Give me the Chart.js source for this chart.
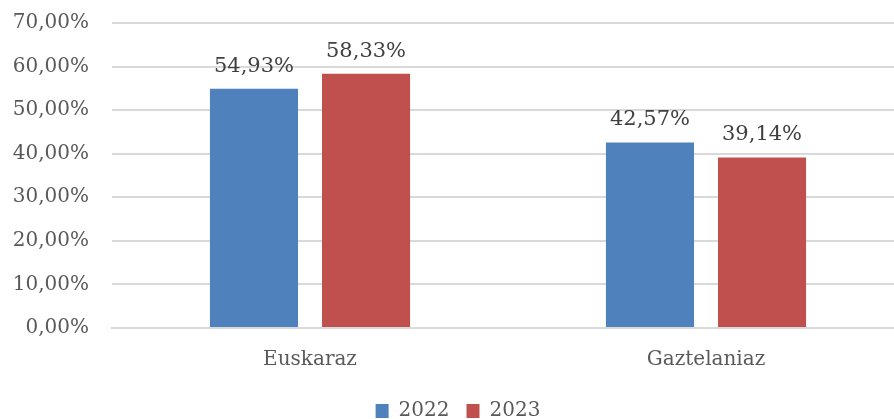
<!DOCTYPE html>
<html lang="eu">
<head>
    <meta charset="UTF-8">
    <title>Euskaraz / Gaztelaniaz</title>
    <style>
        html, body {
            margin: 0;
            padding: 0;
            background: #fff;
            overflow: hidden;
        }

        #chart-container {
            width: 904px;
            height: 419px;
        }
    </style>
</head>
<body>
    <div id="chart-container">
        <canvas id="chart"></canvas>
    </div>

    <script src="https://cdn.jsdelivr.net/npm/chart.js"></script>
    <script>
        const categories = ['Euskaraz', 'Gaztelaniaz'];
        const seriesNames = ['2022', '2023'];
        const values2022 = [54.93, 42.57];
        const values2023 = [58.33, 39.14];
        const yTicks = [0, 10, 20, 30, 40, 50, 60, 70];

        const textColor = '#595959';
        const fontFamily = '"DejaVu Serif", serif';

        function fmt(v) {
            return v.toFixed(2).replace('.', ',') + '%';
        }

        // draws the value above each bar
        const valueLabels = {
            id: 'valueLabels',
            afterDatasetsDraw(chart) {
                const ctx = chart.ctx;
                ctx.save();
                ctx.font = '21px ' + fontFamily;
                ctx.fillStyle = '#404040';
                ctx.textAlign = 'center';
                ctx.textBaseline = 'bottom';
                chart.data.datasets.forEach((ds, i) => {
                    chart.getDatasetMeta(i).data.forEach((bar, j) => {
                        ctx.fillText(fmt(ds.data[j]), bar.x, bar.y - 12);
                    });
                });
                ctx.restore();
            }
        };

        new Chart(document.getElementById('chart'), {
            type: 'bar',
            data: {
                labels: categories,
                datasets: [
                    {
                        label: seriesNames[0],
                        data: values2022,
                        backgroundColor: '#4F81BD',
                        categoryPercentage: 0.566,
                        barPercentage: 0.786
                    },
                    {
                        label: seriesNames[1],
                        data: values2023,
                        backgroundColor: '#C0504D',
                        categoryPercentage: 0.566,
                        barPercentage: 0.786
                    }
                ]
            },
            options: {
                responsive: true,
                maintainAspectRatio: false,
                animation: false,
                layout: {
                    padding: { top: 23, left: 12, right: 0, bottom: -12 }
                },
                plugins: {
                    legend: {
                        position: 'bottom',
                        labels: {
                            color: textColor,
                            font: { family: fontFamily, size: 20 },
                            boxWidth: 13,
                            boxHeight: 14,
                            padding: 17
                        }
                    },
                    tooltip: { enabled: false }
                },
                scales: {
                    x: {
                        grid: { display: false },
                        border: { color: '#D9D9D9', width: 2 },
                        ticks: {
                            color: textColor,
                            font: { family: fontFamily, size: 20 },
                            padding: 12
                        }
                    },
                    y: {
                        min: 0,
                        max: 70,
                        afterBuildTicks: axis => {
                            axis.ticks = yTicks.map(v => ({ value: v }));
                        },
                        afterFit: axis => {
                            axis.width = 100;
                            axis.paddingTop = 0;
                            axis.paddingBottom = 0;
                        },
                        grid: { color: '#D9D9D9', lineWidth: 2, drawTicks: false },
                        border: { display: false },
                        ticks: {
                            color: textColor,
                            font: { family: fontFamily, size: 20 },
                            padding: 23,
                            callback: v => fmt(v)
                        }
                    }
                }
            },
            plugins: [valueLabels]
        });
    </script>
</body>
</html>
